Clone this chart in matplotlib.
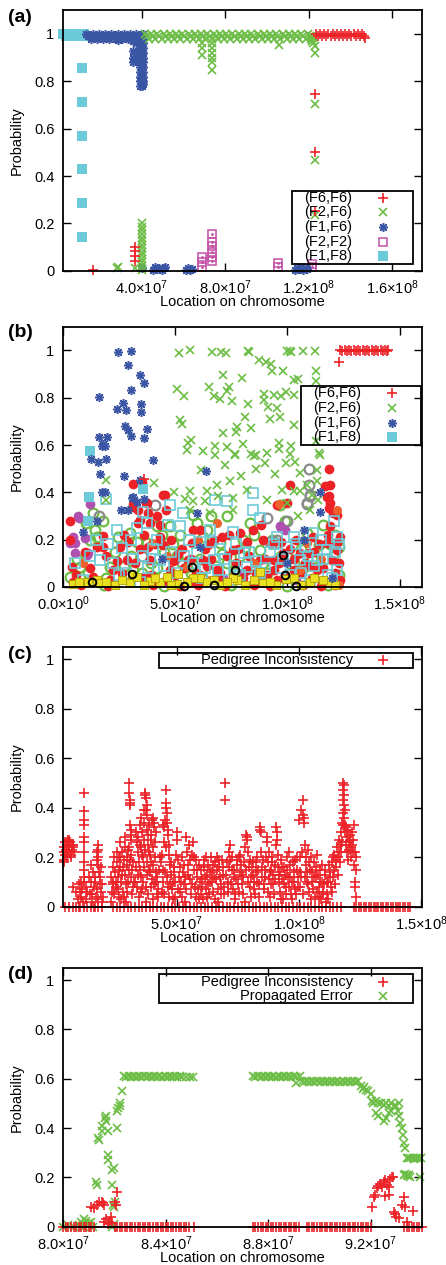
import matplotlib
matplotlib.use('Agg')
import matplotlib.pyplot as plt
from matplotlib.patches import Rectangle

plt.rcParams['font.family'] = ['Liberation Sans', 'DejaVu Sans']
plt.rcParams['mathtext.fontset'] = 'custom'
plt.rcParams['mathtext.rm'] = 'Liberation Sans'
plt.rcParams['mathtext.it'] = 'Liberation Sans:italic'
plt.rcParams['font.size'] = 10.5

MB = 1e6
RED = '#ec2227'
GREEN = '#6cbd45'
BLUE = '#3b55a5'
MAGENTA = '#c24fa6'
CYAN = '#6dcbd9'
GRAY = '#8a8a8a'
PURPLE = '#b050b0'
YELLOW = '#e8e020'
ORANGE = '#f0602a'

# ---------------- panel (a) : x in Mb ----------------
a_f6f6_x = [123.5, 124.5, 125.5, 126.5, 127.5, 128.5, 129.5, 130.5, 131.5, 132.5, 133.5, 134.5,
            135.5, 136.5, 137.5, 138.5, 139.5, 140.5, 141.5, 142.5, 143.5, 144.5, 145.5, 146.5, 146.8,
            123.0, 123.0, 123.0, 16.7, 36.8, 36.8, 36.8, 36.8]
a_f6f6_y = [1.0, 0.99, 1.0, 0.99, 1.0, 0.99, 1.0, 0.99, 1.0, 0.99, 1.0, 0.99,
            1.0, 0.99, 1.0, 0.99, 1.0, 0.99, 1.0, 0.99, 1.0, 0.99, 1.0, 0.99, 0.985,
            0.748, 0.5, 0.253, 0.005, 0.10, 0.083, 0.063, 0.042]

a_f2f6_x = [41.5, 42.5, 43.5, 44.5, 45.5, 46.5, 47.5, 48.5, 49.5, 50.5, 51.5, 52.5, 53.5,
            54.5, 55.5, 56.5, 57.5, 58.5, 59.5, 60.5, 61.5, 62.5, 63.5, 64.5, 65.5, 66.5,
            67.5, 68.5, 69.5, 70.5, 71.5, 72.5, 73.5, 74.5, 75.5, 76.5, 77.5, 78.5, 79.5,
            80.5, 81.5, 82.5, 83.5, 84.5, 85.5, 86.5, 87.5, 88.5, 89.5, 90.5, 91.5, 92.5,
            93.5, 94.5, 95.5, 96.5, 97.5, 98.5, 99.5, 100.5, 101.5, 102.5, 103.5, 104.5, 105.5,
            106.5, 107.5, 108.5, 109.5, 110.5, 111.5, 112.5, 113.5, 114.5, 115.5, 116.5, 117.5,
            118.5, 119.5,
            120.5, 121.2, 121.8, 122.3, 122.8, 121.5, 122.0,
            68.9, 68.9, 68.9, 73.8, 73.8, 73.8, 73.8, 73.8, 73.8, 105.9, 122.9, 123.0, 123.0, 123.0,
            40.3, 40.3, 40.3, 40.3, 40.3, 40.3, 40.3, 40.3, 40.3, 40.3, 40.3, 40.3, 40.3, 40.3,
            28.3, 28.7, 36.8]
a_f2f6_y = [1.0, 0.99, 0.98, 1.0, 0.99, 0.98, 1.0, 0.99, 0.98, 1.0, 0.99, 0.98, 1.0,
            0.99, 0.98, 1.0, 0.99, 0.98, 1.0, 0.99, 0.98, 1.0, 0.99, 0.98, 1.0, 0.99,
            0.98, 1.0, 0.99, 0.98, 1.0, 0.99, 0.98, 1.0, 0.99, 0.98, 1.0, 0.99, 0.98,
            1.0, 0.99, 0.98, 1.0, 0.99, 0.98, 1.0, 0.99, 0.98, 1.0, 0.99, 0.98, 1.0,
            0.99, 0.98, 1.0, 0.99, 0.98, 1.0, 0.99, 0.98, 1.0, 0.99, 0.98, 1.0, 0.99,
            0.98, 1.0, 0.99, 0.98, 1.0, 0.99, 0.98, 1.0, 0.99, 0.98, 1.0, 0.99,
            0.98, 1.0,
            0.99, 0.98, 0.97, 0.96, 0.95, 0.99, 0.985,
            0.961, 0.94, 0.911, 0.961, 0.94, 0.918, 0.897, 0.883, 0.848, 0.953, 0.918, 0.703, 0.468, 0.235,
            0.005, 0.02, 0.035, 0.05, 0.065, 0.08, 0.095, 0.11, 0.125, 0.14, 0.155, 0.17, 0.185, 0.2,
            0.01, 0.015, 0.01]

a_f1f6_x = [13.5, 14.5, 15.5, 16.5, 17.5, 18.5, 19.5, 20.5, 21.5, 22.5, 23.5, 24.5, 25.5, 26.5,
            27.5, 28.5, 29.5, 30.5, 31.5, 32.5, 33.5, 34.5, 35.5, 36.5, 37.5, 38.5, 39.5, 40.5, 28.6,
            36.0, 36.0, 36.0, 36.0, 37.2, 37.2, 37.2,
            39.3, 39.3, 39.3, 39.3, 39.3, 39.3, 39.3, 39.3, 39.3, 39.3, 39.3,
            40.0, 40.0, 40.0, 40.0, 40.0, 40.0, 40.0, 40.0, 40.0, 40.0, 40.0,
            40.7, 40.7, 40.7, 40.7, 40.7, 40.7, 40.7, 40.7, 40.7, 40.7, 40.7,
            40.0, 45.5, 46.5, 47.5, 48.5, 49.5, 50.5, 51.0, 61.0, 62.0, 63.0, 64.0, 113.5, 114.5,
            115.5, 116.5, 117.5, 118.5, 119.0]
a_f1f6_y = [1.0, 0.99, 0.98, 1.0, 0.99, 0.98, 1.0, 0.99, 0.98, 1.0, 0.99, 0.98, 1.0, 0.99,
            0.98, 1.0, 0.99, 0.98, 1.0, 0.99, 0.98, 1.0, 0.99, 0.98, 1.0, 0.99, 0.98, 1.0, 0.975,
            0.97, 0.93, 0.9, 0.88, 0.96, 0.92, 0.89,
            0.98, 0.96, 0.94, 0.92, 0.9, 0.88, 0.86, 0.84, 0.82, 0.8, 0.78,
            0.97, 0.95, 0.93, 0.91, 0.89, 0.87, 0.85, 0.83, 0.81, 0.79, 0.78,
            0.98, 0.96, 0.94, 0.92, 0.9, 0.88, 0.86, 0.84, 0.82, 0.8, 0.79,
            0.01, 0.005, 0.015, 0.008, 0.012, 0.005, 0.01, 0.015, 0.005, 0.01, 0.005, 0.008, 0.005,
            0.012, 0.008, 0.015, 0.005, 0.01, 0.008]

a_f2f2_x = [68.7, 68.7, 68.7, 73.5, 73.5, 73.5, 73.5, 73.5, 73.5, 105.3, 105.3, 121.4, 121.4]
a_f2f2_y = [0.059, 0.038, 0.017, 0.155, 0.123, 0.104, 0.08, 0.059, 0.041, 0.031, 0.017, 0.03, 0.015]

a_f1f8_x = [2.5, 3.5, 4.5, 5.5, 6.5, 7.5, 8.5, 9.5, 10.5, 11.5, 12.5,
            11.5, 11.5, 11.5, 11.5, 11.5, 11.5]
a_f1f8_y = [1.0, 0.99, 1.0, 0.99, 1.0, 0.99, 1.0, 0.99, 1.0, 0.99, 1.0,
            0.857, 0.714, 0.571, 0.429, 0.286, 0.143]

# ---------------- panel (b) ----------------
b_f6f6_x = [123.5, 124.5, 125.5, 126.5, 127.5, 128.5, 129.5, 130.5, 131.5, 132.5, 133.5, 134.5,
            135.5, 136.5, 137.5, 138.5, 139.5, 140.5, 141.5, 142.5, 143.5, 144.5, 145.0, 123.2, 36.2]
b_f6f6_y = [1.0, 0.997, 1.0, 0.997, 1.0, 0.997, 1.0, 0.997, 1.0, 0.997, 1.0, 0.997,
            1.0, 0.997, 1.0, 0.997, 1.0, 0.997, 1.0, 0.997, 1.0, 0.997, 1.0, 0.951, 0.456]

b_f2f6_x = [51.4, 56.3, 66.2, 70.4, 72.5, 82.6, 83.0, 101.0, 101.4, 107.1, 112.4, 87.5, 90.3, 92.6,
            92.9, 97.9, 112.8, 71.4, 79.6, 103.1, 112.8, 50.5, 54.0, 64.8, 74.0, 72.9, 67.3, 69.9,
            75.2, 82.2, 89.6, 89.6, 93.8, 97.2, 99.4, 102.7, 95.2, 91.5, 81.1, 92.3, 96.7, 102.7,
            52.0, 53.0, 71.1, 77.6, 83.6, 77.0, 57.1, 55.4, 67.7, 72.9, 80.1, 86.0, 96.0, 96.1,
            101.4, 101.2, 76.4, 83.6, 90.8, 114.1, 55.8, 62.5, 67.7, 72.2, 76.6, 85.1, 90.0, 99.4,
            103.4, 114.6, 112.8, 19.1, 40.5, 68.5, 61.5, 74.4, 79.2, 86.0, 94.5, 113.1, 105.7, 97.5,
            102.7, 108.6, 113.1, 49.6, 54.3, 56.6, 57.7, 63.3, 64.0, 69.2, 75.9, 81.9, 90.8, 99.7,
            105.7, 110.9, 110.1, 104.9, 113.8, 65.5, 56.6, 19.1, 75.9, 99.7, 104.6]
b_f2f6_y = [0.99, 1.0, 0.994, 0.994, 0.989, 0.999, 0.995, 0.999, 0.995, 0.999, 0.999, 0.958, 0.95,
            0.944, 0.912, 0.912, 0.912, 0.897, 0.883, 0.873, 0.87, 0.837, 0.806, 0.846, 0.846, 0.827,
            0.806, 0.794, 0.785, 0.775, 0.817, 0.792, 0.813, 0.806, 0.823, 0.813, 0.757, 0.76, 0.72,
            0.709, 0.72, 0.684, 0.705, 0.69, 0.651, 0.678, 0.673, 0.653, 0.62, 0.58, 0.594, 0.591,
            0.604, 0.557, 0.607, 0.582, 0.594, 0.561, 0.561, 0.563, 0.567, 0.565, 0.609, 0.573,
            0.559, 0.517, 0.556, 0.552, 0.524, 0.524, 0.527, 0.559, 0.616, 0.451, 0.439, 0.432,
            0.496, 0.446, 0.47, 0.499, 0.477, 0.496, 0.482, 0.411, 0.404, 0.432, 0.446, 0.4, 0.371,
            0.404, 0.362, 0.362, 0.404, 0.383, 0.376, 0.411, 0.369, 0.355, 0.404, 0.39, 0.326,
            0.298, 0.369, 0.312, 0.326, 0.369, 0.326, 0.997, 0.877]

b_f1f6_x = [24.3, 30.1, 29.0, 34.4, 36.2, 15.8, 30.2, 26.7, 23.8, 28.1, 34.7, 34.7, 27.7, 28.7,
            30.4, 37.2, 36.0, 16.1, 19.4, 17.3, 18.8, 17.7, 12.4, 15.6, 19.1, 40.2, 16.4, 27.2,
            17.1, 18.5, 34.2, 25.8, 28.7, 30.5, 63.7, 114.6, 114.6, 107.4, 14.9, 36.0, 31.0, 59.5,
            107.2, 8.9, 33.0, 61.0, 44.0, 100.0, 120.0]
b_f1f6_y = [0.994, 0.998, 0.939, 0.895, 0.861, 0.802, 0.832, 0.778, 0.751, 0.75, 0.775, 0.741,
            0.682, 0.662, 0.636, 0.668, 0.63, 0.635, 0.635, 0.597, 0.597, 0.603, 0.541, 0.527, 0.542,
            0.538, 0.479, 0.467, 0.403, 0.4, 0.453, 0.326, 0.326, 0.376, 0.49, 0.403, 0.315, 0.242,
            0.277, 0.371, 0.38, 0.312, 0.2, 0.234, 0.36, 0.17, 0.12, 0.1, 0.04]

b_f1f8_x = [11.9, 11.6, 11.2, 35.4]
b_f1f8_y = [0.575, 0.38, 0.28, 0.414]

# other pairs (not listed in the key)
b_red_x = [3.0, 3.7, 3.0, 17.6, 17.9, 31.0, 35.0, 31.0, 36.9, 34.2, 33.5, 43.2, 38.0, 45.4, 45.8,
           44.4, 43.2, 57.3, 61.0, 55.8, 68.5, 75.9, 84.8, 89.3, 101.2, 98.2, 102.7, 105.7, 116.8,
           117.6, 118.8, 120.5, 119.0, 122.0, 119.8, 123.5, 113.1, 109.4, 95.3, 81.9, 87.8, 68.5,
           56.6, 35.7, 28.3, 22.3, 13.4, 4.5, 25.3, 47.6, 38.7, 62.5, 75.9, 93.8, 111.6, 114.6,
           117.6, 95.2, 100.0, 118.7, 119.1, 118.3, 118.3, 122.0, 123.5, 122.0, 44.6, 37.2, 38.0,
           31.3, 33.5, 38.7, 8.0, 20.0, 40.0, 52.0, 60.0, 72.0, 85.0, 92.0, 107.0, 115.0, 121.0,
           71.0, 79.0, 53.0, 65.0, 83.0, 91.0, 104.0, 110.0, 27.0, 50.0, 59.0, 97.0,
           5.5, 9.5, 12.0, 15.0, 19.0, 21.0, 24.0, 26.0, 29.0, 32.0, 34.0, 36.0, 39.0, 41.0, 42.0,
           46.0, 48.0, 49.0, 51.0, 54.0, 57.0, 58.0, 61.0, 63.0, 64.0, 66.0, 67.0, 70.0, 73.0,
           74.0, 77.0, 78.0, 80.0, 82.0, 86.0, 88.0, 90.0, 93.0, 94.0, 96.0, 99.0, 101.0, 103.0,
           106.0, 108.0, 111.0, 112.0, 114.0, 116.0, 118.0, 120.0, 121.0, 123.0]
b_red_y = [0.281, 0.086, 0.2, 0.216, 0.171, 0.435, 0.445, 0.352, 0.357, 0.284, 0.326, 0.213, 0.171,
           0.388, 0.326, 0.177, 0.263, 0.185, 0.242, 0.114, 0.072, 0.157, 0.242, 0.199, 0.432,
           0.143, 0.072, 0.143, 0.425, 0.38, 0.357, 0.312, 0.256, 0.185, 0.114, 0.03, 0.072, 0.143,
           0.03, 0.072, 0.114, 0.03, 0.023, 0.037, 0.114, 0.072, 0.044, 0.023, 0.171, 0.072, 0.114,
           0.114, 0.044, 0.114, 0.213, 0.086, 0.185, 0.347, 0.355, 0.499, 0.432, 0.383, 0.333,
           0.305, 0.213, 0.157, 0.39, 0.355, 0.312, 0.34, 0.27, 0.27, 0.01, 0.005, 0.01, 0.005,
           0.01, 0.005, 0.01, 0.005, 0.01, 0.005, 0.01, 0.21, 0.23, 0.16, 0.18, 0.13, 0.05, 0.2,
           0.09, 0.22, 0.05, 0.06, 0.19,
           0.05, 0.15, 0.08, 0.17, 0.13, 0.03, 0.11, 0.06, 0.19, 0.1, 0.16, 0.22, 0.05, 0.18, 0.3,
           0.03, 0.2, 0.11, 0.14, 0.08, 0.12, 0.24, 0.05, 0.16, 0.09, 0.12, 0.2, 0.06, 0.13,
           0.22, 0.1, 0.16, 0.04, 0.19, 0.06, 0.26, 0.12, 0.18, 0.07, 0.1, 0.05, 0.16, 0.12,
           0.06, 0.1, 0.04, 0.15, 0.18, 0.08, 0.22, 0.18, 0.06, 0.1]

b_grn_x = [13.4, 17.6, 14.2, 7.5, 24.6, 41.7, 47.6, 50.6, 58.0, 59.5, 62.5, 72.9, 78.9, 83.3, 87.8,
           96.7, 108.6, 113.9, 120.5, 122.8, 37.2, 20.9, 31.3, 65.5, 90.8, 102.7, 55.1, 69.9, 29.8,
           86.3, 3.0, 12.0, 10.0, 45.0, 66.0, 73.0, 99.0, 116.0, 121.0, 33.0, 52.0, 80.0, 106.0,
           18.0, 45.0, 75.0, 100.0, 118.0,
           6.0, 11.0, 15.0, 19.0, 23.0, 27.0, 30.0, 35.0, 39.0, 42.0, 44.0, 49.0, 53.0, 57.0, 61.0,
           64.0, 68.0, 71.0, 76.0, 81.0, 85.0, 89.0, 93.0, 97.0, 101.0, 104.0, 107.0, 111.0, 115.0,
           119.0, 123.0]
b_grn_y = [0.312, 0.277, 0.242, 0.086, 0.213, 0.256, 0.256, 0.129, 0.305, 0.27, 0.213, 0.1, 0.129,
           0.27, 0.157, 0.347, 0.227, 0.178, 0.129, 0.171, 0.185, 0.086, 0.072, 0.058, 0.058, 0.1,
           0.086, 0.185, 0.227, 0.058, 0.044, 0.2, 0.27, 0.15, 0.3, 0.3, 0.28, 0.26, 0.22, 0.19,
           0.22, 0.2, 0.16, 0.01, 0.005, 0.01, 0.005, 0.01,
           0.12, 0.06, 0.21, 0.04, 0.15, 0.09, 0.13, 0.06, 0.1, 0.08, 0.22, 0.18, 0.1, 0.06, 0.12,
           0.24, 0.09, 0.14, 0.06, 0.17, 0.22, 0.1, 0.2, 0.13, 0.06, 0.14, 0.08, 0.12, 0.09,
           0.18, 0.05]

b_gray_x = [109.4, 109.4, 108.6, 110.1, 40.9, 92.3, 95.3, 35.0, 90.8, 95.2, 110.1, 108.9, 16.0, 100.0]
b_gray_y = [0.5, 0.432, 0.355, 0.39, 0.347, 0.192, 0.185, 0.129, 0.291, 0.199, 0.383, 0.35, 0.3, 0.28]

b_purp_x = [11.9, 6.7, 4.5, 9.7, 5.2, 11.2, 96.7, 49.9, 80.4, 71.4, 5.2, 3.0, 7.2, 10.7, 97.0,
            99.0, 45.0, 60.0, 88.0, 104.0, 3.5]
b_purp_y = [0.35, 0.298, 0.213, 0.206, 0.143, 0.143, 0.256, 0.114, 0.065, 0.037, 0.185, 0.185,
            0.291, 0.136, 0.249, 0.242, 0.02, 0.03, 0.02, 0.03, 0.2]

b_cyan_x = [18.9, 35.4, 37.2, 47.6, 53.3, 67.7, 72.9, 84.8, 84.5, 87.8, 46.9, 52.1, 65.5, 75.9,
            23.8, 26.1, 35.7, 59.5, 67.0, 81.9, 99.7, 111.6, 120.8, 122.0, 113.1, 122.0, 16.4, 50.6,
            87.8, 105.7, 117.6, 102.7, 95.3, 43.2, 61.0, 80.4, 14.5, 30.0, 40.0, 56.0, 70.0, 77.0,
            92.0, 108.0, 115.0, 120.0, 28.0, 63.0, 97.0, 110.0, 9.0, 34.0, 74.0,
            5.0, 12.0, 20.0, 22.0, 25.0, 31.0, 33.0, 38.0, 42.0, 45.0, 48.0, 54.0, 58.0, 62.0, 66.0,
            69.0, 72.0, 76.0, 79.0, 83.0, 86.0, 90.0, 94.0, 98.0, 101.0, 104.0, 106.0, 109.0,
            112.0, 116.0, 118.0, 121.0, 123.0]
b_cyan_y = [0.371, 0.315, 0.27, 0.347, 0.312, 0.369, 0.362, 0.397, 0.326, 0.291, 0.263, 0.256,
            0.242, 0.234, 0.242, 0.164, 0.129, 0.143, 0.114, 0.086, 0.171, 0.227, 0.277, 0.213,
            0.114, 0.072, 0.114, 0.058, 0.058, 0.114, 0.157, 0.213, 0.213, 0.114, 0.192, 0.143,
            0.2, 0.2, 0.16, 0.2, 0.16, 0.18, 0.15, 0.17, 0.2, 0.04, 0.06, 0.08, 0.08, 0.03, 0.03,
            0.02, 0.03,
            0.1, 0.13, 0.18, 0.1, 0.05, 0.12, 0.25, 0.08, 0.2, 0.09, 0.15, 0.13, 0.1, 0.04, 0.19,
            0.07, 0.12, 0.09, 0.05, 0.15, 0.11, 0.08, 0.18, 0.12, 0.05, 0.18, 0.06, 0.13,
            0.09, 0.12, 0.05, 0.15, 0.18]

b_yel_x = [4.5, 14.9, 30.5, 43.2, 61.0, 64.0, 77.4, 87.8, 102.7, 119.0, 29.8, 16.4, 89.3, 50.6,
           46.1, 51.1, 58.0, 75.9, 99.4, 110.1, 11.2, 38.7, 32.7, 23.0, 70.0, 95.0, 112.0,
           7.0, 19.0, 26.0, 36.0, 41.0, 48.0, 55.0, 67.0, 73.0, 81.0, 85.0, 92.0, 106.0, 116.0, 121.0]
b_yel_y = [0.013, 0.03, 0.051, 0.023, 0.037, 0.023, 0.03, 0.065, 0.037, 0.023, 0.016, 0.016, 0.018,
           0.013, 0.044, 0.054, 0.037, 0.037, 0.032, 0.023, 0.023, 0.027, 0.044, 0.01, 0.01, 0.01,
           0.04,
           0.02, 0.02, 0.03, 0.01, 0.04, 0.01, 0.02, 0.03, 0.02, 0.01, 0.03, 0.02, 0.01, 0.03, 0.01]

b_blk_x = [76.6, 98.2, 99.0, 67.0, 30.5, 57.3, 13.0, 54.0, 104.0]
b_blk_y = [0.072, 0.136, 0.051, 0.008, 0.054, 0.086, 0.02, 0.005, 0.005]

b_org_x = [105.7, 123.2, 65.5, 55.1, 68.5, 108.6, 39.4, 46.1, 8.9, 122.0, 96.0, 60.0, 85.0, 115.0]
b_org_y = [0.072, 0.008, 0.03, 0.086, 0.27, 0.185, 0.185, 0.129, 0.1, 0.326, 0.35, 0.2, 0.1, 0.12]

# ---------------- panel (c) ----------------
c_pi_x = [3.8, 4.0, 4.3, 4.5, 4.8, 5.0, 5.2, 5.5, 5.8, 6.0, 6.3, 6.6, 7.0, 7.3, 7.6, 8.0, 4.1, 5.4,
          6.1, 6.9, 7.8, 3.9, 5.1,
          7.6, 9.0, 10.0, 10.3, 10.8, 11.2, 11.5, 13.0, 12.0, 12.3,
          12.1, 12.1, 12.1, 12.1, 12.1, 12.1, 12.1, 12.1, 12.1,
          14.5, 15.0, 15.5, 16.0, 16.5, 17.0, 17.3, 17.6, 18.0, 18.0, 18.0, 18.0, 18.3, 18.6, 19.0,
          19.4, 15.8, 19.8,
          23.0, 23.5, 24.0, 24.8, 25.0, 25.5, 26.0, 26.3, 26.8, 27.0, 27.4, 27.8, 28.0, 28.4, 28.7,
          29.0, 29.3, 29.6, 29.9, 30.2, 30.5, 30.6, 30.8, 30.9, 31.0, 31.1, 31.2, 31.3, 31.4, 30.7,
          31.5, 31.8, 32.0, 23.8, 26.5,
          33.2, 33.6, 34.0, 34.3, 34.7, 35.0, 35.3, 35.6, 35.9, 36.2, 36.5, 36.8, 37.1, 37.2, 37.3,
          37.5, 37.7, 37.9, 38.2, 38.5, 38.8, 39.1, 39.4, 39.7, 40.0, 40.3, 40.6, 40.9, 41.2, 41.5,
          41.8, 34.5, 36.0, 37.5, 40.5, 33.0, 42.0, 42.5, 38.0, 35.2,
          43.3, 43.6, 44.0, 44.3, 44.6, 44.9, 45.2, 45.5, 45.6, 45.8, 46.0, 46.2, 46.4, 46.6, 46.8,
          47.0, 47.2, 45.0, 46.5,
          47.5, 48.0, 48.5, 49.0, 49.5, 50.0, 50.2, 50.5, 51.0, 51.5, 52.0, 52.5, 53.0, 53.5, 54.0,
          54.3, 54.6, 55.0, 55.3, 55.8, 56.2, 56.6, 57.0, 57.5, 58.0, 58.5, 59.0, 59.5,
          60.0, 60.5, 61.0, 61.5, 62.0, 62.5, 63.0, 63.5, 64.0, 64.5, 65.0, 65.5, 66.0, 66.5, 67.0,
          67.5, 68.0, 68.5, 69.0, 69.5, 69.9, 69.9, 70.5, 71.0, 71.5, 72.0, 72.5, 73.0, 73.5, 74.0,
          74.5, 75.0, 75.5, 76.0, 76.5, 77.0, 77.5, 78.0, 78.5, 78.7, 78.9, 79.2, 79.5, 80.0, 80.5,
          81.0, 81.5, 82.0, 82.5, 83.0, 83.5, 84.1, 84.2, 84.3, 84.6, 85.0, 85.5, 86.0, 86.5, 86.8,
          87.0, 87.4, 87.8, 88.2, 88.6, 89.0, 89.5, 90.0, 90.5, 90.7, 90.9, 91.1, 91.4, 91.8, 92.2,
          92.6, 93.0, 93.5, 94.0, 94.5, 95.0, 95.5, 96.0, 96.3, 96.7, 97.0, 97.5, 98.0, 98.5, 99.0,
          99.5,
          100.0, 100.3, 100.6, 101.0, 101.3, 101.6, 101.8, 102.0, 102.2, 102.5, 102.8, 103.2, 103.6,
          104.0, 104.5, 105.0, 105.5, 106.0, 106.5, 107.0, 107.5, 108.0, 108.5, 109.0, 109.5, 110.0,
          110.5, 111.0,
          111.5, 112.0, 112.5, 113.0, 113.5, 114.0, 114.5, 115.0, 115.5, 116.0, 116.5, 117.0, 117.3,
          117.6, 117.8, 118.0, 118.1, 118.2, 118.3, 118.4, 118.5, 118.6, 118.8, 119.0, 119.3, 119.6,
          120.0, 120.3, 120.6, 121.0, 121.3, 121.6, 122.0, 122.3, 122.6, 122.9, 123.1, 123.3]
c_pi_y = [0.19, 0.24, 0.21, 0.26, 0.23, 0.25, 0.20, 0.27, 0.22, 0.24, 0.26, 0.21, 0.25, 0.23, 0.24,
          0.22, 0.22, 0.23, 0.27, 0.20, 0.25, 0.18, 0.26,
          0.08, 0.06, 0.09, 0.06, 0.04, 0.07, 0.02, 0.03, 0.12, 0.10,
          0.458, 0.388, 0.35, 0.33, 0.28, 0.26, 0.22, 0.18, 0.15,
          0.05, 0.10, 0.02, 0.08, 0.12, 0.04, 0.22, 0.19, 0.25, 0.23, 0.20, 0.17, 0.14, 0.09, 0.06,
          0.02, 0.14, 0.04,
          0.02, 0.06, 0.10, 0.14, 0.08, 0.18, 0.12, 0.04, 0.20, 0.16, 0.10, 0.22, 0.06, 0.19, 0.13,
          0.24, 0.02, 0.17, 0.23, 0.10, 0.50, 0.46, 0.43, 0.42, 0.41, 0.33, 0.31, 0.29, 0.27, 0.24,
          0.21, 0.15, 0.08, 0.09, 0.15,
          0.30, 0.26, 0.22, 0.28, 0.18, 0.33, 0.24, 0.12, 0.30, 0.20, 0.34, 0.27, 0.46, 0.45, 0.44,
          0.39, 0.37, 0.31, 0.25, 0.15, 0.33, 0.21, 0.08, 0.29, 0.35, 0.36, 0.34, 0.32, 0.26, 0.14,
          0.05, 0.04, 0.07, 0.02, 0.03, 0.10, 0.12, 0.04, 0.18, 0.15,
          0.20, 0.18, 0.21, 0.10, 0.33, 0.32, 0.35, 0.47, 0.42, 0.40, 0.38, 0.34, 0.31, 0.29, 0.25,
          0.21, 0.17, 0.05, 0.08,
          0.13, 0.07, 0.10, 0.16, 0.04, 0.30, 0.27, 0.19, 0.12, 0.06, 0.20, 0.14, 0.09, 0.02, 0.28,
          0.22, 0.17, 0.25, 0.11, 0.05, 0.21, 0.26, 0.15, 0.08, 0.19, 0.12, 0.03, 0.10,
          0.15, 0.08, 0.19, 0.12, 0.20, 0.04, 0.17, 0.10, 0.20, 0.14, 0.06, 0.18, 0.11, 0.20, 0.02,
          0.16, 0.09, 0.19, 0.13, 0.05, 0.50, 0.43, 0.18, 0.10, 0.22, 0.25, 0.15, 0.07, 0.12, 0.03,
          0.17, 0.09, 0.20, 0.21, 0.13, 0.05, 0.18, 0.24, 0.29, 0.28, 0.27, 0.22, 0.16, 0.08, 0.12,
          0.18, 0.10, 0.05, 0.14, 0.20, 0.09, 0.32, 0.31, 0.30, 0.22, 0.16, 0.07, 0.12, 0.20, 0.28,
          0.26, 0.18, 0.11, 0.04, 0.15, 0.20, 0.09, 0.17, 0.25, 0.32, 0.30, 0.27, 0.21, 0.13, 0.06,
          0.19, 0.11, 0.03, 0.16, 0.08, 0.20, 0.12, 0.22, 0.17, 0.05, 0.10, 0.18, 0.14, 0.07, 0.20,
          0.12,
          0.35, 0.20, 0.14, 0.39, 0.22, 0.37, 0.43, 0.36, 0.34, 0.25, 0.17, 0.10, 0.23, 0.06, 0.15,
          0.20, 0.10, 0.18, 0.04, 0.12, 0.21, 0.08, 0.15, 0.03, 0.10, 0.06, 0.13, 0.02,
          0.05, 0.10, 0.14, 0.08, 0.18, 0.12, 0.21, 0.16, 0.24, 0.20, 0.27, 0.25, 0.30, 0.34, 0.38,
          0.43, 0.47, 0.50, 0.49, 0.45, 0.41, 0.36, 0.33, 0.30, 0.32, 0.28, 0.31, 0.26, 0.23, 0.29,
          0.20, 0.25, 0.22, 0.17, 0.33, 0.10, 0.08, 0.04]

# more pedigree-inconsistency points inside the dense low clusters
c_more_x = [9.5, 10.0, 11.0, 13.5, 14.0, 15.2, 16.2, 16.8, 17.5, 18.8, 19.2, 19.6, 14.8, 17.9, 12.8,
            23.3, 23.9, 24.5, 25.2, 25.7, 26.2, 26.6, 27.1, 27.6, 28.2, 28.6, 29.1, 29.5, 29.8,
            30.3, 30.8, 31.3, 31.7, 32.1, 32.5, 24.2, 26.9, 28.9,
            33.4, 33.8, 34.1, 34.9, 35.4, 35.8, 36.3, 36.7, 37.0, 37.4, 37.8, 38.1, 38.4, 38.7,
            39.0, 39.3, 39.6, 39.9, 40.2, 40.5, 40.8, 41.1, 41.4, 41.7, 42.2, 42.7, 36.6, 38.0, 35.5,
            43.8, 44.2, 44.8, 45.3, 45.7, 46.1, 46.9, 47.3, 47.8, 48.3, 48.8, 49.3, 49.8, 50.7,
            51.2, 51.8, 52.3, 52.8, 53.3, 53.8, 54.8, 55.6, 56.4, 57.2, 57.8, 58.3, 58.8, 59.3, 59.8,
            60.3, 60.8, 61.3, 61.8, 62.3, 62.8, 63.3, 63.8, 64.3, 64.8, 65.3, 65.8, 66.3, 66.8,
            67.3, 67.8, 68.3, 68.8, 69.3, 70.2, 70.8, 71.3, 71.8, 72.3, 72.8, 73.3, 73.8, 74.3,
            74.8, 75.3, 75.8, 76.3, 76.8, 77.3, 77.8, 78.3, 79.0, 79.8, 80.3, 80.8,
            81.3, 81.8, 82.3, 82.8, 83.3, 83.8, 84.8, 85.3, 85.8, 86.3, 87.2, 87.6, 88.0, 88.4,
            88.8, 89.3, 89.8, 90.3, 91.6, 92.0, 92.4, 92.8, 93.2, 93.8, 94.3, 94.8, 95.3, 95.8,
            96.5, 97.3, 97.8, 98.3, 98.8, 99.3, 99.8,
            100.5, 101.0, 101.5, 102.3, 103.0, 103.4, 103.8, 104.3, 104.8, 105.3, 105.8, 106.3,
            106.8, 107.3, 107.8, 108.3, 108.8, 109.3, 109.8, 110.3, 110.8, 111.3, 111.8, 112.3,
            112.8, 113.3, 113.8, 114.3, 114.8, 115.3, 115.8, 116.3, 116.8, 117.1, 117.5, 117.9,
            118.7, 119.2, 119.8, 120.2, 120.8, 121.2, 121.8, 122.2, 122.8, 123.2, 123.3]
c_more_y = [0.03, 0.0, 0.1, 0.06, 0.12, 0.05, 0.0, 0.1, 0.07, 0.12, 0.16, 0.09, 0.17, 0.03, 0.08,
            0.12, 0.16, 0.05, 0.1, 0.22, 0.07, 0.2, 0.03, 0.13, 0.16, 0.04, 0.09, 0.2, 0.06,
            0.15, 0.19, 0.12, 0.05, 0.18, 0.1, 0.2, 0.26, 0.28,
            0.16, 0.08, 0.13, 0.25, 0.06, 0.21, 0.1, 0.16, 0.23, 0.08, 0.13, 0.29, 0.05, 0.22,
            0.14, 0.27, 0.18, 0.11, 0.24, 0.17, 0.09, 0.2, 0.3, 0.1, 0.07, 0.15, 0.39, 0.41, 0.36,
            0.06, 0.15, 0.26, 0.14, 0.24, 0.12, 0.04, 0.09, 0.18, 0.03, 0.14, 0.1, 0.21, 0.07,
            0.16, 0.1, 0.04, 0.17, 0.12, 0.07, 0.13, 0.19, 0.09, 0.2, 0.04, 0.15, 0.07, 0.17, 0.05,
            0.11, 0.03, 0.16, 0.07, 0.13, 0.09, 0.05, 0.15, 0.1, 0.17, 0.12, 0.03, 0.15, 0.07,
            0.19, 0.12, 0.05, 0.16, 0.08, 0.13, 0.06, 0.16, 0.19, 0.09, 0.2, 0.15, 0.05, 0.11,
            0.19, 0.06, 0.14, 0.17, 0.09, 0.12, 0.02, 0.15, 0.1, 0.19, 0.04, 0.16,
            0.13, 0.07, 0.18, 0.1, 0.15, 0.04, 0.12, 0.19, 0.09, 0.15, 0.06, 0.22, 0.14, 0.09,
            0.18, 0.13, 0.05, 0.11, 0.16, 0.1, 0.14, 0.03, 0.16, 0.09, 0.13, 0.05, 0.15, 0.08,
            0.12, 0.03, 0.1, 0.19, 0.05, 0.15, 0.08,
            0.08, 0.12, 0.05, 0.12, 0.2, 0.14, 0.09, 0.18, 0.03, 0.14, 0.07, 0.12,
            0.16, 0.06, 0.13, 0.04, 0.1, 0.17, 0.05, 0.09, 0.15, 0.1, 0.03, 0.17,
            0.12, 0.06, 0.2, 0.15, 0.09, 0.19, 0.13, 0.22, 0.18, 0.22, 0.26, 0.33,
            0.39, 0.25, 0.22, 0.19, 0.27, 0.24, 0.3, 0.27, 0.22, 0.15, 0.2]

c_zero_x = [4.5, 6.0, 7.5, 9.0, 10.5, 12.0, 13.5, 15.0, 16.5, 18.0, 19.5, 24.0, 25.5, 27.0, 28.5,
            30.0, 31.5, 33.0, 34.5, 36.0, 37.5, 39.0, 40.5, 42.0, 43.5, 45.0, 46.5, 48.0, 49.5,
            51.0, 52.5, 54.0, 55.5, 57.0, 58.5, 60.0, 61.5, 63.0, 64.5, 66.0, 67.5, 69.0, 70.5,
            72.0, 73.5, 75.0, 76.5, 78.0, 79.5, 81.0, 82.5, 84.0, 85.5, 87.0, 88.5, 90.0, 91.5,
            93.0, 94.5, 96.0, 97.5, 99.0, 100.5, 102.0, 103.5, 105.0, 106.5, 108.0, 109.5, 111.0,
            112.5, 114.0, 115.5, 117.0,
            122.5, 123.5, 124.5, 125.5, 126.5, 127.5, 128.5, 129.5, 130.5, 131.5, 132.5, 133.5,
            134.5, 135.5, 136.5, 137.5, 138.5, 139.5, 140.5, 141.5, 142.5, 143.5, 144.5, 145.5]

# ---------------- panel (d) ----------------
d_pi_x = [80.0, 80.1, 80.2, 80.3, 80.4, 80.5, 80.6, 80.7, 80.8, 80.9, 81.0, 81.1, 81.2,
          82.0, 82.1, 82.2, 82.3, 82.4, 82.5, 82.6, 82.7, 82.8, 82.9, 83.0, 83.1, 83.2, 83.3, 83.4,
          83.5, 83.6, 83.7, 83.8, 83.9, 84.0, 84.1, 84.2, 84.3, 84.4, 84.5, 84.6, 84.7, 84.8, 84.9,
          85.1,
          87.4, 87.5, 87.6, 87.7, 87.8, 87.9, 88.0, 88.1, 88.2, 88.3, 88.4, 88.5, 88.6, 88.7, 88.8,
          88.9, 89.0, 89.1, 89.2,
          89.5, 89.6, 89.7, 89.8, 89.9, 90.0, 90.1, 90.2, 90.3, 90.4, 90.5, 90.6, 90.7, 90.8, 90.9,
          91.0, 91.1, 91.2, 91.3, 91.4, 91.5, 91.6, 91.7, 91.8, 91.9, 92.0,
          93.3, 93.4, 93.5, 93.6, 93.7, 93.8, 93.9, 94.0,
          81.1, 81.2, 81.3, 81.4, 81.5, 81.55, 81.6, 81.65, 81.6, 81.75, 81.8, 81.85, 81.9, 82.05,
          82.1, 82.03,
          92.04, 92.11, 92.15, 92.24, 92.3, 92.37, 92.42, 92.5, 92.57, 92.62, 92.7, 92.75, 92.83,
          92.88, 92.57, 92.7, 92.89, 92.96, 93.0, 93.09, 93.28, 93.35, 93.41, 93.65, 93.2]
d_pi_y = [0.0, 0.0, 0.0, 0.0, 0.0, 0.0, 0.0, 0.0, 0.0, 0.0, 0.0, 0.0, 0.0,
          0.0, 0.0, 0.0, 0.0, 0.0, 0.0, 0.0, 0.0, 0.0, 0.0, 0.0, 0.0, 0.0, 0.0, 0.0,
          0.0, 0.0, 0.0, 0.0, 0.0, 0.0, 0.0, 0.0, 0.0, 0.0, 0.0, 0.0, 0.0, 0.0, 0.0,
          0.0,
          0.0, 0.0, 0.0, 0.0, 0.0, 0.0, 0.0, 0.0, 0.0, 0.0, 0.0, 0.0, 0.0, 0.0, 0.0,
          0.0, 0.0, 0.0, 0.0,
          0.0, 0.0, 0.0, 0.0, 0.0, 0.0, 0.0, 0.0, 0.0, 0.0, 0.0, 0.0, 0.0, 0.0, 0.0,
          0.0, 0.0, 0.0, 0.0, 0.0, 0.0, 0.0, 0.0, 0.0, 0.0, 0.0,
          0.0, 0.0, 0.0, 0.0, 0.0, 0.0, 0.0, 0.0,
          0.08, 0.075, 0.09, 0.1, 0.1, 0.095, 0.09, 0.03, 0.02, 0.01, 0.02, 0.04, 0.015, 0.09,
          0.142, 0.1,
          0.081, 0.122, 0.13, 0.155, 0.165, 0.173, 0.16, 0.18, 0.19, 0.17, 0.16, 0.195, 0.2,
          0.2, 0.124, 0.13, 0.06, 0.05, 0.04, 0.034, 0.122, 0.081, 0.018, 0.065, 0.09]

d_pe_x = [80.0, 80.2, 80.4, 80.6, 80.8, 81.0, 81.15, 80.7, 80.8, 80.9, 81.0, 80.85, 81.1, 80.75,
          81.28, 81.3, 81.37, 81.4, 81.5, 81.52, 81.63, 81.65, 81.66, 81.73, 81.74, 81.75, 81.89,
          81.9, 81.95, 81.96, 81.98, 82.0, 82.08, 82.09, 82.12, 82.21, 82.22, 82.28, 81.92, 81.97,
          82.35, 82.45, 82.55, 82.65, 82.75, 82.85, 82.95, 83.05, 83.15, 83.25, 83.35, 83.45, 83.55,
          83.65, 83.75, 83.85, 83.95, 84.05, 84.15, 84.25, 84.35, 84.45, 84.55, 84.65, 84.8, 84.95,
          85.08,
          87.42, 87.5, 87.6, 87.7, 87.8, 87.9, 88.0, 88.1, 88.2, 88.3, 88.4, 88.5, 88.6, 88.7, 88.8,
          88.9, 89.0, 89.1, 89.25, 89.1,
          89.3, 89.4, 89.5, 89.6, 89.7, 89.8, 89.9, 90.0, 90.1, 90.2, 90.3, 90.4, 90.5, 90.6, 90.7,
          90.8, 90.9, 91.0, 91.1, 91.2, 91.3, 91.4, 91.5,
          91.6, 91.7, 91.75, 91.8, 91.9, 92.0,
          92.05, 92.1, 92.2, 92.3, 92.4, 92.5, 92.6, 92.7, 92.8, 92.9, 93.0,
          92.2, 92.3, 92.5, 92.6, 92.8, 92.7, 93.1, 93.05,
          93.1, 93.15, 93.2, 93.25, 93.3, 93.35, 93.4,
          93.3, 93.35, 93.4, 93.45, 93.5, 93.55,
          93.45, 93.55, 93.65, 93.75, 93.85, 93.95, 93.7, 93.93]
d_pe_y = [0.0, 0.005, 0.0, 0.005, 0.0, 0.005, 0.0, 0.02, 0.03, 0.025, 0.015, 0.01, 0.02, 0.01,
          0.18, 0.17, 0.36, 0.35, 0.41, 0.39, 0.44, 0.45, 0.43, 0.39, 0.29, 0.27, 0.17,
          0.23, 0.09, 0.08, 0.24, 0.1, 0.4, 0.47, 0.48, 0.49, 0.5, 0.55, 0.0, 0.01,
          0.61, 0.605, 0.61, 0.605, 0.61, 0.605, 0.61, 0.605, 0.61, 0.605, 0.61, 0.605, 0.61,
          0.605, 0.61, 0.605, 0.61, 0.605, 0.61, 0.605, 0.61, 0.605, 0.61, 0.605, 0.605, 0.605,
          0.605,
          0.61, 0.605, 0.61, 0.605, 0.61, 0.605, 0.61, 0.605, 0.61, 0.605, 0.61, 0.605, 0.61,
          0.605, 0.61, 0.605, 0.61, 0.605, 0.61, 0.584,
          0.59, 0.585, 0.59, 0.585, 0.59, 0.585, 0.59, 0.585, 0.59, 0.585, 0.59, 0.585, 0.59,
          0.585, 0.59, 0.585, 0.59, 0.585, 0.59, 0.585, 0.59, 0.585, 0.59,
          0.57, 0.56, 0.565, 0.555, 0.55, 0.54,
          0.51, 0.5, 0.51, 0.5, 0.5, 0.495, 0.5, 0.49, 0.5, 0.49, 0.49,
          0.46, 0.45, 0.43, 0.44, 0.47, 0.46, 0.5, 0.47,
          0.45, 0.42, 0.4, 0.37, 0.34, 0.32, 0.28,
          0.21, 0.215, 0.21, 0.205, 0.21, 0.2,
          0.28, 0.28, 0.28, 0.28, 0.28, 0.28, 0.275, 0.2]

Y_TICKS = [0, 0.2, 0.4, 0.6, 0.8, 1]
Y_LABELS = ['0', '0.2', '0.4', '0.6', '0.8', '1']


def sci(mant, exp):
    return r'$\mathrm{%s×10^{%d}}$' % (mant, exp)


def pts(ax, xs, ys, **kw):
    ax.plot([v * MB for v in xs], ys, linestyle='none', clip_on=False, **kw)


def setup(ax, xlim, ylim, xticks, xlabels):
    ax.set_xlim(xlim[0] * MB, xlim[1] * MB)
    ax.set_ylim(*ylim)
    ax.set_xticks([v * MB for v in xticks])
    ax.set_xticklabels(xlabels)
    ax.set_yticks(Y_TICKS)
    ax.set_yticklabels(Y_LABELS)
    ax.tick_params(direction='in', top=True, right=True, length=6, width=1)
    ax.tick_params(axis='x', pad=5.5)
    ax.tick_params(axis='y', pad=6.5)
    for s in ax.spines.values():
        s.set_linewidth(1.3)
    ax.set_xlabel('Location on chromosome', labelpad=-1.5)
    ax.set_ylabel('Probability', labelpad=7)


def key(ax, box, tx, mx, entries):
    x0, y0, x1, y1 = box
    ax.add_patch(Rectangle((x0, y0), x1 - x0, y1 - y0, transform=ax.transAxes,
                           fill=False, lw=1.3, ec='black', zorder=6, clip_on=False))
    for label, y, style in entries:
        ax.text(tx, y, label, transform=ax.transAxes, ha='right', va='center', zorder=7)
        ax.plot([mx], [y], transform=ax.transAxes, linestyle='none', clip_on=False,
                zorder=7, **style)


fig = plt.figure(figsize=(4.46, 12.65), dpi=100)
W, H = 446.0, 1265.0


def add_axes(top, bottom):
    return fig.add_axes([63.3 / W, 1 - bottom / H, (422 - 63.3) / W, (bottom - top) / H])


s_red = dict(marker='+', ms=6.5, mew=1.2, color=RED)
s_grn = dict(marker='x', ms=5.5, mew=1.2, color=GREEN)
s_blu = dict(marker=(8, 2, 0), ms=6.5, mew=1.1, color=BLUE)
s_mag = dict(marker='s', ms=6, mew=1.1, mfc='none', mec=MAGENTA)
s_cyn = dict(marker='s', ms=6.5, mew=0, color=CYAN)

# (a)
ax = add_axes(10.3, 270.7)
setup(ax, (2.44, 174.3), (0, 1.1), [40, 80, 120, 160],
      [sci('4.0', 7), sci('8.0', 7), sci('1.2', 8), sci('1.6', 8)])
pts(ax, a_f1f8_x, a_f1f8_y, **s_cyn)
pts(ax, a_f2f2_x, a_f2f2_y, **s_mag)
pts(ax, a_f2f2_x, a_f2f2_y, marker='.', ms=2, color=MAGENTA)
pts(ax, a_f1f6_x, a_f1f6_y, **s_blu)
pts(ax, a_f2f6_x, a_f2f6_y, **s_grn)
pts(ax, a_f6f6_x, a_f6f6_y, **s_red)
key(ax, (0.637, 0.026, 0.974, 0.307), 0.805, 0.891,
    [('(F6,F6)', 0.279, s_red), ('(F2,F6)', 0.225, s_grn), ('(F1,F6)', 0.168, s_blu),
     ('(F2,F2)', 0.110, s_mag), ('(F1,F8)', 0.056, s_cyn)])

# (b)
ax = add_axes(326.7, 587)
setup(ax, (0, 160), (0, 1.1), [0, 50, 100, 150],
      [sci('0.0', 0), sci('5.0', 7), sci('1.0', 8), sci('1.5', 8)])
pts(ax, b_grn_x, b_grn_y, marker='o', ms=7, mew=1.6, mfc='none', mec=GREEN)
pts(ax, b_gray_x, b_gray_y, marker='o', ms=7, mew=1.6, mfc='none', mec=GRAY)
pts(ax, b_purp_x, b_purp_y, marker='o', ms=7, mew=0, color=PURPLE)
pts(ax, b_red_x, b_red_y, marker='o', ms=7, mew=0, color=RED)
pts(ax, b_org_x, b_org_y, marker='o', ms=6.5, mew=0, color=ORANGE)
pts(ax, b_cyan_x, b_cyan_y, marker='s', ms=6.5, mew=1.2, mfc='none', mec=CYAN)
pts(ax, b_yel_x, b_yel_y, marker='s', ms=6, mew=0.6, mfc=YELLOW, mec='#b0a000')
pts(ax, b_blk_x, b_blk_y, marker='o', ms=5.5, mew=1.4, mfc='none', mec='black')
pts(ax, b_f1f8_x, b_f1f8_y, **s_cyn)
pts(ax, b_f2f6_x, b_f2f6_y, **s_grn)
pts(ax, b_f1f6_x, b_f1f6_y, **s_blu)
pts(ax, b_f6f6_x, b_f6f6_y, **s_red)
key(ax, (0.662, 0.546, 0.996, 0.771), 0.830, 0.916,
    [('(F6,F6)', 0.744, s_red), ('(F2,F6)', 0.689, s_grn), ('(F1,F6)', 0.631, s_blu),
     ('(F1,F8)', 0.575, s_cyn)])

# (c)
ax = add_axes(646.7, 906.7)
setup(ax, (3.64, 150.3), (0, 1.05), [50, 100, 150],
      [sci('5.0', 7), sci('1.0', 8), sci('1.5', 8)])
pts(ax, c_zero_x, [0.0] * len(c_zero_x), **s_red)
pts(ax, c_pi_x, c_pi_y, **s_red)
pts(ax, c_more_x, c_more_y, **s_red)
key(ax, (0.268, 0.918, 0.974, 0.977), 0.807, 0.892,
    [('Pedigree Inconsistency', 0.948, s_red)])

# (d)
ax = add_axes(967.7, 1226.7)
setup(ax, (80, 94), (0, 1.05), [80, 84, 88, 92],
      [sci('8.0', 7), sci('8.4', 7), sci('8.8', 7), sci('9.2', 7)])
pts(ax, d_pe_x, d_pe_y, **s_grn)
pts(ax, d_pi_x, d_pi_y, **s_red)
key(ax, (0.268, 0.863, 0.974, 0.977), 0.807, 0.892,
    [('Pedigree Inconsistency', 0.944, s_red), ('Propagated Error', 0.891, s_grn)])

for lab, top in [('(a)', 9), ('(b)', 324), ('(c)', 645.7), ('(d)', 966)]:
    fig.text(8 / W, 1 - top / H, lab, ha='left', va='top', fontsize=14, fontweight='bold')

fig.savefig('out.png', dpi=100)
